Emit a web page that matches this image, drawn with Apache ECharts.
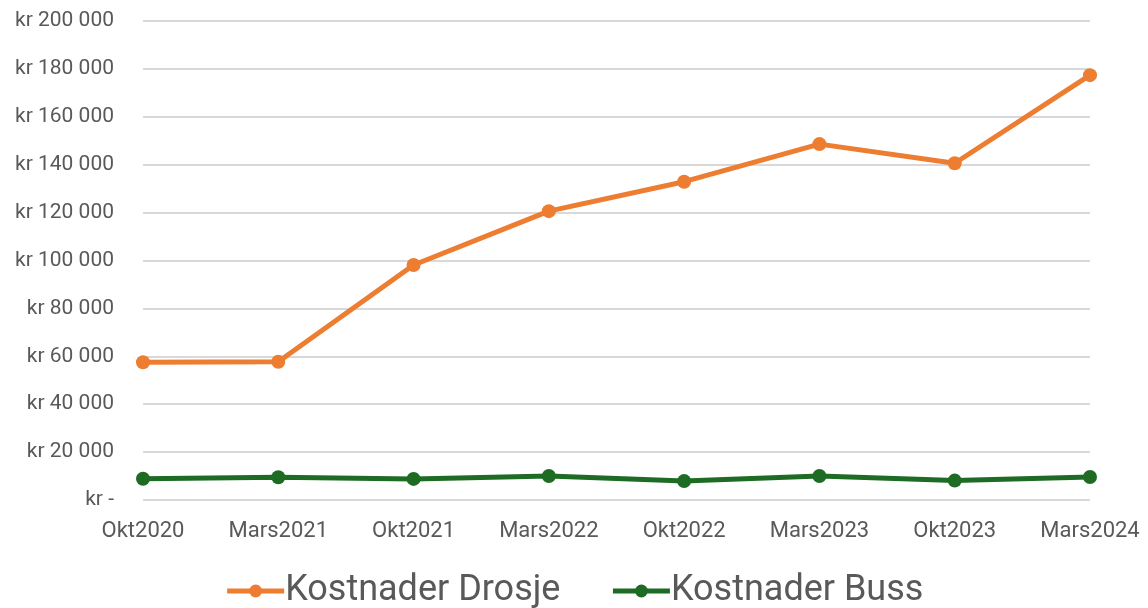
<!DOCTYPE html>
<html>
<head>
<meta charset="utf-8">
<script src="https://cdn.jsdelivr.net/npm/echarts@6/dist/echarts.min.js"></script>
<style>
  html,body{margin:0;padding:0;background:#fff}
  #chart{width:1148px;height:608px}
</style>
</head>
<body>
<div id="chart"></div>
<script>
var categories = ['Okt2020','Mars2021','Okt2021','Mars2022','Okt2022','Mars2023','Okt2023','Mars2024']
var drosje = [57500, 57700, 98100, 120600, 132900, 148600, 140600, 177400]
var buss = [8900, 9500, 8800, 10000, 7900, 10000, 8100, 9600]
var seriesNames = ['Kostnader Drosje','Kostnader Buss']
var seriesColors = ['#ED7D31','#1E6B24']

var fmtKr = (v)=>{
    if(v === 0) return 'kr -'
    return 'kr ' + String(v).replace(/\B(?=(\d{3})+(?!\d))/g,' ')
}

var mychart = echarts.init(document.getElementById('chart'))
var mkSeries = (name,data,color)=>({
    name:name,
    type:'line',
    data:data,
    symbol:'circle',
    symbolSize:14,
    lineStyle:{width:5,color:color},
    itemStyle:{color:color},
    animation:false
})
mychart.setOption({
    animation:false,
    color:seriesColors,
    grid:{left:143,right:58,top:21,bottom:108,containLabel:false},
    legend:{
        bottom:-6,
        left:'center',
        itemWidth:57,
        itemHeight:16,
        itemGap:50,
        lineStyle:{width:5},
        textStyle:{fontFamily:'Roboto',fontSize:36,color:'#595959',padding:[0,0,0,-4]},
        data:seriesNames
    },
    xAxis:{
        type:'category',
        data:categories,
        boundaryGap:false,
        axisLine:{show:false},
        axisTick:{show:false},
        axisLabel:{fontFamily:'Roboto',fontSize:22,color:'#595959',margin:20}
    },
    yAxis:{
        type:'value',
        min:0,
        max:200000,
        interval:20000,
        axisLine:{show:false},
        axisTick:{show:false},
        splitLine:{lineStyle:{color:'#d9d9d9',width:2}},
        axisLabel:{fontFamily:'Roboto',fontSize:21,color:'#595959',margin:29,formatter:fmtKr}
    },
    series:[
        mkSeries(seriesNames[0],drosje,seriesColors[0]),
        mkSeries(seriesNames[1],buss,seriesColors[1])
    ]
})
</script>
</body>
</html>
